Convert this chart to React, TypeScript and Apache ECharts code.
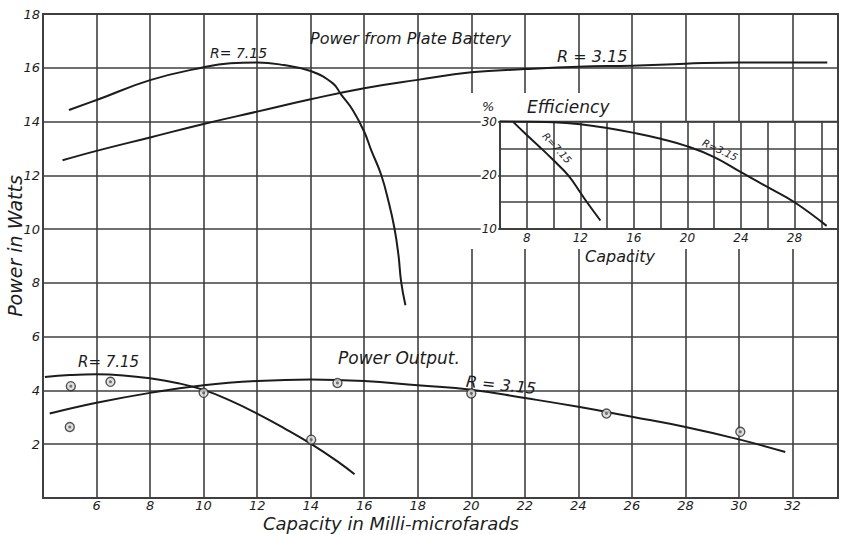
import React, { useEffect, useRef } from "react";
import * as echarts from "echarts";

// ---- tick labels ----
const mainXLabels = [6, 8, 10, 12, 14, 16, 18, 20, 22, 24, 26, 28, 30, 32];
const mainYLabels = [2, 4, 6, 8, 10, 12, 14, 16, 18];
const insetXLabels = [8, 12, 16, 20, 24, 28];
const insetYLabels = [10, 20, 30];

// ---- Power from plate battery (watts vs capacity) ----
const plateBatteryR715: [number, number][] = [
  [4.97, 14.43], [6, 14.8], [8, 15.54], [10, 16.02], [11, 16.17], [12, 16.2],
  [13, 16.1], [14, 15.88], [14.83, 15.42], [15.14, 15.0], [15.57, 14.43],
  [16, 13.62], [16.26, 12.94], [16.63, 12.03], [16.91, 11.02], [17.13, 10.03],
  [17.28, 9.03], [17.38, 8.04], [17.54, 7.17],
];
const plateBatteryR315: [number, number][] = [
  [4.73, 12.56], [6, 12.91], [8, 13.41], [10, 13.91], [12, 14.37], [14, 14.83],
  [16, 15.24], [18, 15.55], [20, 15.83], [22, 15.95], [24, 16.04], [26, 16.08],
  [28, 16.15], [30, 16.2], [33.3, 16.2],
];

// ---- Power output ----
const outputR715: [number, number][] = [
  [4.07, 4.5], [5, 4.57], [6, 4.6], [7, 4.56], [8, 4.45], [9, 4.28], [10, 4.02],
  [11, 3.62], [12, 3.14], [13, 2.6], [14, 2.02], [15, 1.36], [15.64, 0.88],
];
const outputR315: [number, number][] = [
  [4.25, 3.14], [6, 3.54], [8, 3.91], [10, 4.19], [12, 4.35], [14, 4.41],
  [16, 4.35], [18, 4.19], [20, 4.03], [22, 3.72], [24, 3.39], [26, 3.02],
  [28, 2.64], [30, 2.18], [31.73, 1.71],
];
const measuredOutput: [number, number][] = [
  [5.04, 4.16], [5.0, 2.64], [6.52, 4.32], [10.0, 3.91], [14.02, 2.17],
  [15.0, 4.28], [20.0, 3.89], [25.05, 3.14], [30.05, 2.46],
];

// ---- Efficiency inset (% vs capacity) ----
const efficiencyR715: [number, number][] = [
  [7.0, 29.9], [8, 27.5], [9, 25.2], [10, 22.8], [11.1, 20.0], [12, 16.8],
  [12.5, 15.0], [13.5, 11.6],
];
const efficiencyR315: [number, number][] = [
  [6, 30.1], [8, 30.0], [10, 29.9], [12, 29.5], [14, 28.8], [16, 27.9],
  [18, 26.8], [20, 25.4], [22, 23.4], [24, 20.6], [26, 17.8], [28, 15.0],
  [30.4, 10.6],
];

const INK = "#1c1c1c";
const GRIDC = "#3f3f3f";
const FONT = "'DejaVu Sans', 'Liberation Sans', sans-serif";

export default function App() {
  const ref = useRef<HTMLDivElement>(null);

  useEffect(() => {
    if (!ref.current) return;
    const chart = echarts.init(ref.current, null, { renderer: "svg" });

    const labelStyle = {
      color: INK,
      fontFamily: FONT,
      fontStyle: "italic",
      fontSize: 13,
    };
    const gridLine = { color: GRIDC, width: 1.6 };

    const lineSeries = (name: string, data: [number, number][], idx: number) => ({
      name,
      type: "line",
      data,
      xAxisIndex: idx,
      yAxisIndex: idx,
      smooth: 0.45,
      showSymbol: false,
      symbol: "none",
      silent: true,
      lineStyle: { color: INK, width: 2 },
      z: idx === 1 ? 6 : 3,
    });

    const txt = (
      text: string,
      x: number,
      y: number,
      size: number,
      align = "left",
      rotationDeg = 0
    ) => ({
      type: "text",
      x,
      y,
      rotation: (rotationDeg * Math.PI) / 180,
      z: 8,
      silent: true,
      style: {
        text,
        fill: INK,
        fontFamily: FONT,
        fontStyle: "italic",
        fontSize: size,
        align,
        verticalAlign: "middle",
      },
    });

    const option: any = {
      animation: false,
      backgroundColor: "#ffffff",
      grid: [
        {
          left: 43, top: 14, right: 4, bottom: 36,
          show: true, borderColor: GRIDC, borderWidth: 2, z: 0,
        },
        {
          left: 500, top: 121.6, right: 4, bottom: 304.9,
          show: true, backgroundColor: "#ffffff", borderColor: GRIDC, borderWidth: 1.6, z: 4,
        },
      ],
      xAxis: [
        {
          type: "value", gridIndex: 0, min: 4, max: 33.7, interval: 2, z: 0,
          axisLine: { show: true, lineStyle: { color: GRIDC, width: 2 } },
          axisTick: { show: false },
          splitLine: { show: true, lineStyle: gridLine },
          axisLabel: {
            ...labelStyle, fontSize: 13, margin: 1,
            formatter: (v: number) => (mainXLabels.includes(v) ? String(v) : ""),
          },
        },
        {
          type: "value", gridIndex: 1, min: 6, max: 31.25, interval: 2, z: 5,
          axisLine: { show: true, lineStyle: { color: GRIDC, width: 1.6 } },
          axisTick: { show: false },
          splitLine: { show: true, lineStyle: gridLine },
          axisLabel: {
            ...labelStyle, fontSize: 12, margin: 3,
            formatter: (v: number) => (insetXLabels.includes(v) ? String(v) : ""),
          },
        },
      ],
      yAxis: [
        {
          type: "value", gridIndex: 0, position: "left", min: 0, max: 18, interval: 2, z: 0,
          axisLine: { show: true, lineStyle: { color: GRIDC, width: 2 } },
          axisTick: { show: false },
          splitLine: { show: true, lineStyle: gridLine },
          axisLabel: {
            ...labelStyle, fontSize: 13, margin: 3,
            formatter: (v: number) => (mainYLabels.includes(v) ? String(v) : ""),
          },
        },
        {
          type: "value", gridIndex: 1, position: "left", min: 10, max: 30, interval: 5, z: 5,
          axisLine: { show: true, lineStyle: { color: GRIDC, width: 1.6 } },
          axisTick: { show: false },
          splitLine: { show: true, lineStyle: gridLine },
          axisLabel: { show: false },
        },
        {
          type: "value", gridIndex: 1, position: "left", offset: 0, min: 10, max: 30, interval: 10, z: 5,
          axisLine: { show: false },
          axisTick: { show: true, length: 34, lineStyle: gridLine },
          splitLine: { show: false },
          axisLabel: {
            ...labelStyle, fontSize: 12, margin: 2,
            backgroundColor: "#ffffff", padding: [0, 1, 0, 1],
            formatter: (v: number) => (insetYLabels.includes(v) ? String(v) : ""),
          },
        },
      ],
      graphic: [
        // blank band behind the inset's title and tick labels
        { type: "rect", z: 2, silent: true, shape: { x: 466, y: 93, width: 150, height: 156 }, style: { fill: "#ffffff" } },
        { type: "rect", z: 2, silent: true, shape: { x: 616, y: 229, width: 220, height: 20 }, style: { fill: "#ffffff" } },
        txt("Power from Plate Battery", 310, 38, 16),
        txt("R= 7.15", 210, 53, 14),
        txt("R = 3.15", 557, 56, 16),
        txt("%", 482, 106, 13),
        txt("Efficiency", 527, 107, 17),
        txt("Capacity", 585, 256, 16),
        txt("R=7.15", 557, 148, 10, "center", -48),
        txt("R=3.15", 720, 150, 10, "center", -25),
        txt("R= 7.15", 78, 362, 15),
        txt("Power Output.", 338, 358, 17),
        txt("R = 3.15", 501, 385, 16, "center", -6),
        txt("Power in Watts", 15, 246, 19, "center", 90),
        txt("Capacity in Milli-microfarads", 391, 523, 18, "center"),
      ],
      series: [
        lineSeries("Plate battery R=7.15", plateBatteryR715, 0),
        lineSeries("Plate battery R=3.15", plateBatteryR315, 0),
        lineSeries("Power output R=7.15", outputR715, 0),
        lineSeries("Power output R=3.15", outputR315, 0),
        {
          name: "Measured", type: "scatter", data: measuredOutput,
          xAxisIndex: 0, yAxisIndex: 0, symbol: "circle", symbolSize: 9, silent: true, z: 4,
          itemStyle: { color: "#d8d8d8", borderColor: "#2a2a2a", borderWidth: 1.4 },
        },
        {
          name: "Measured centre", type: "scatter", data: measuredOutput,
          xAxisIndex: 0, yAxisIndex: 0, symbol: "circle", symbolSize: 3, silent: true, z: 5,
          itemStyle: { color: "#555555" },
        },
        lineSeries("Efficiency R=7.15", efficiencyR715, 1),
        lineSeries("Efficiency R=3.15", efficiencyR315, 1),
      ],
    };

    chart.setOption(option);
    return () => chart.dispose();
  }, []);

  return (
    <div
      ref={ref}
      style={{ position: "fixed", left: 0, top: 0, width: 842, height: 534, background: "#fff" }}
    />
  );
}
